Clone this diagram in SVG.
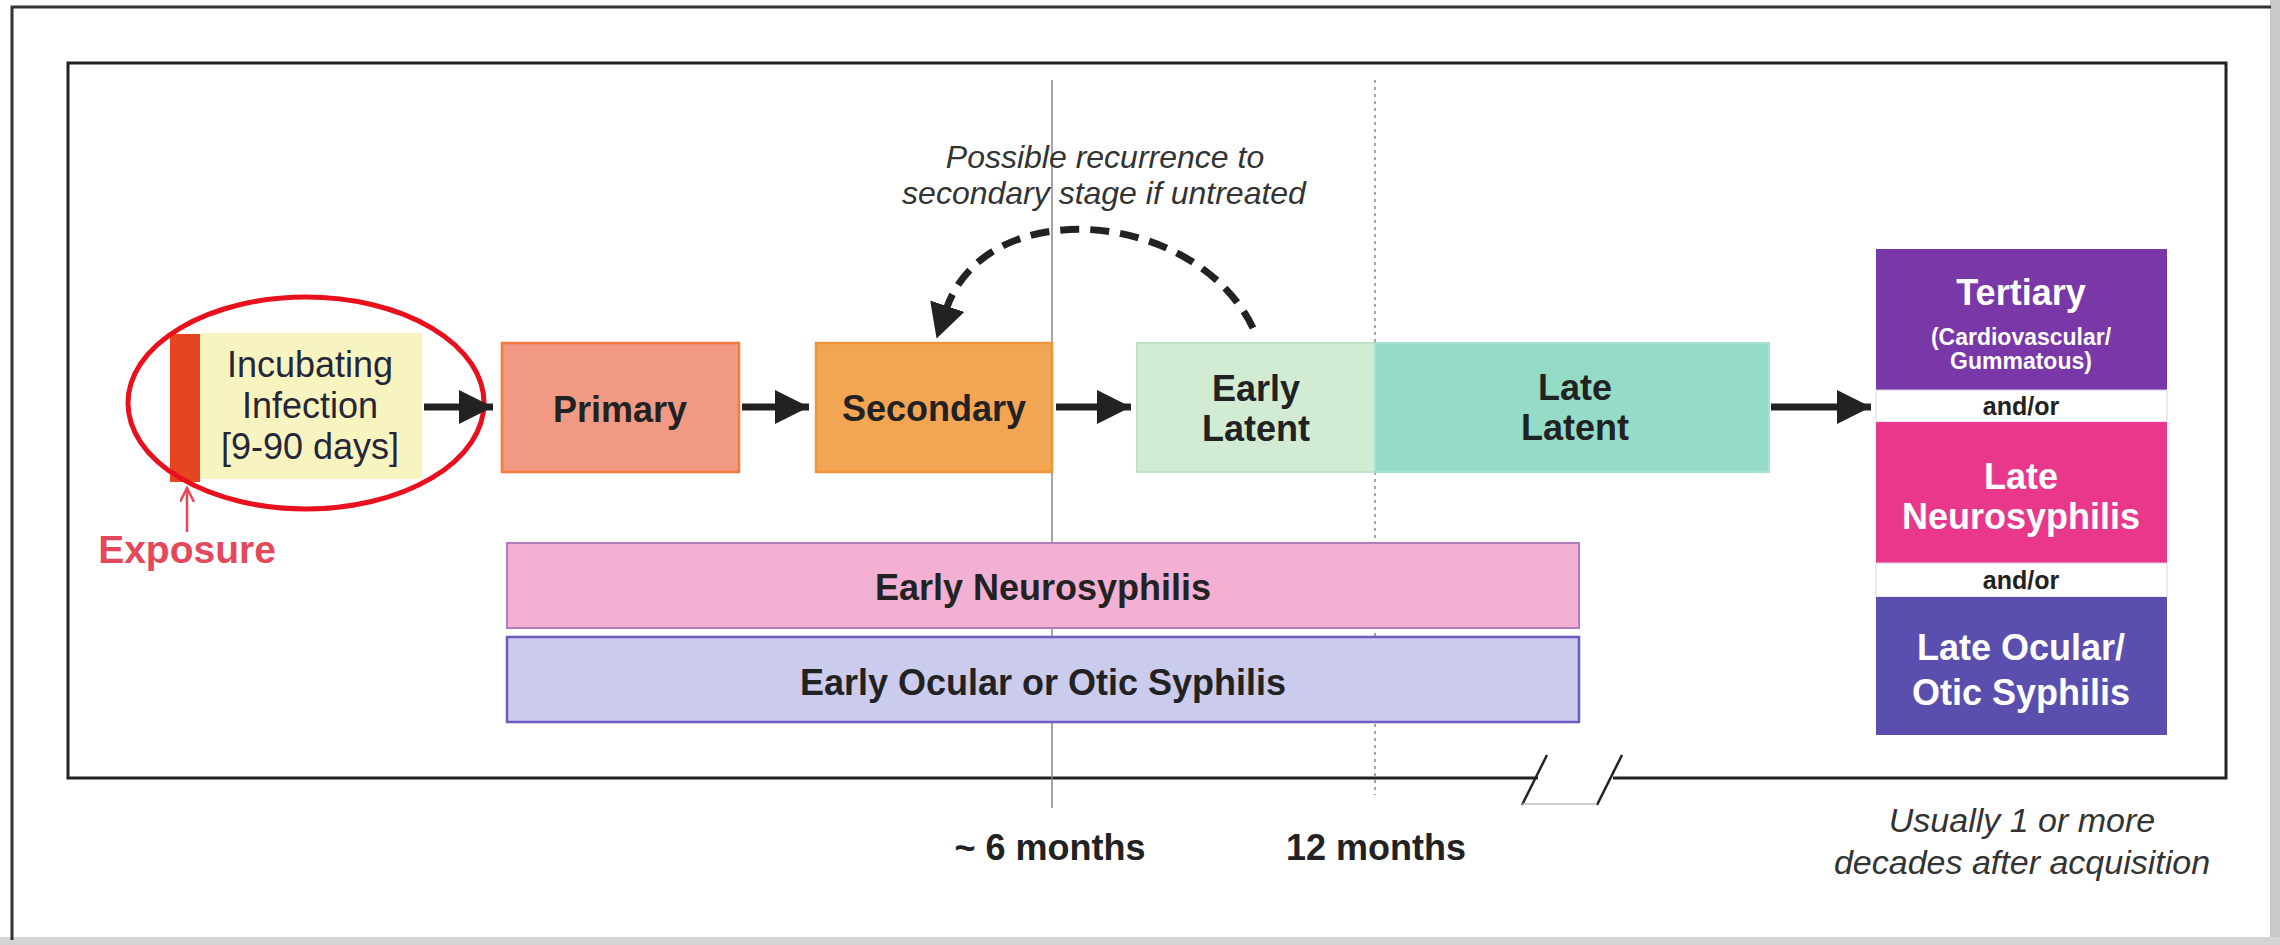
<svg xmlns="http://www.w3.org/2000/svg" width="2280" height="945" viewBox="0 0 2280 945">
  <style>
    .lbl { font-family: "Liberation Sans", Arial, sans-serif; font-weight: bold; font-size: 36px; fill: #222; text-anchor: middle; }
    .reg { font-family: "Liberation Sans", Arial, sans-serif; font-size: 36px; fill: #262638; text-anchor: middle; }
    .wht { font-family: "Liberation Sans", Arial, sans-serif; font-weight: bold; font-size: 36px; fill: #ffffff; text-anchor: middle; }
    .sub { font-family: "Liberation Sans", Arial, sans-serif; font-weight: bold; font-size: 23px; fill: #ffffff; text-anchor: middle; }
    .andor { font-family: "Liberation Sans", Arial, sans-serif; font-weight: bold; font-size: 25px; fill: #222; text-anchor: middle; }
    .ital { font-family: "Liberation Sans", Arial, sans-serif; font-style: italic; font-size: 32px; fill: #333; text-anchor: middle; }
    .ital2 { font-family: "Liberation Sans", Arial, sans-serif; font-style: italic; font-size: 34px; fill: #333; text-anchor: middle; }
    .conn { stroke: #222; stroke-width: 7; fill: none; }
  </style>
  <defs>
    <marker id="ah" markerUnits="userSpaceOnUse" markerWidth="36" markerHeight="36" refX="34" refY="17" orient="auto">
      <path d="M0,0 L34,17 L0,34 Z" fill="#222"/>
    </marker>
    <marker id="ahd" markerUnits="userSpaceOnUse" markerWidth="40" markerHeight="40" refX="4" refY="18" orient="auto">
      <path d="M0,0 L34,18 L0,36 Z" fill="#222"/>
    </marker>
    <marker id="ahr" markerUnits="userSpaceOnUse" markerWidth="16" markerHeight="16" refX="14" refY="7" orient="auto">
      <path d="M0,0 L14,7 L0,14" fill="none" stroke="#e5485a" stroke-width="2.5"/>
    </marker>
  </defs>

  <rect x="0" y="0" width="2280" height="945" fill="#ffffff"/>

  <!-- outer page frame -->
  <g id="page-frame">
    <rect x="2270" y="0" width="10" height="945" fill="#c9c9c9"/>
    <rect x="0" y="937" width="2280" height="8" fill="#d4d4d4"/>
    <path d="M12 940 V7 H2271" fill="none" stroke="#333" stroke-width="3"/>
  </g>

  <!-- inner frame with break -->
  <g id="inner-frame">
    <path d="M1538 778 H68 V63 H2226 V778 H1613" fill="none" stroke="#222" stroke-width="3"/>
    <path d="M1547 755 L1522 805 M1622 755 L1597 805" fill="none" stroke="#222" stroke-width="2.5"/>
    <path d="M1522 804 H1597" fill="none" stroke="#bbb" stroke-width="1.5"/>
  </g>

  <!-- time markers -->
  <g id="time-lines">
    <line x1="1052" y1="80" x2="1052" y2="808" stroke="#888" stroke-width="1.5"/>
    <line x1="1375" y1="80" x2="1375" y2="795" stroke="#888" stroke-width="1.5" stroke-dasharray="3 4"/>
  </g>

  <!-- nodes -->
  <g id="incubating">
    <rect x="200" y="333" width="222" height="146" fill="#f8f4c0"/>
    <rect x="170" y="334" width="30" height="148" fill="#e5451f"/>
    <text class="reg" x="310" y="377">Incubating</text>
    <text class="reg" x="310" y="418">Infection</text>
    <text class="reg" x="310" y="459">[9-90 days]</text>
  </g>

  <g id="highlight-ellipse">
    <ellipse cx="306" cy="403" rx="178" ry="106" fill="none" stroke="#e8101c" stroke-width="5"/>
  </g>

  <g id="exposure">
    <line x1="187" y1="532" x2="187" y2="488" stroke="#e5485a" stroke-width="2.5" marker-end="url(#ahr)"/>
    <text x="187" y="563" font-family="Liberation Sans, Arial, sans-serif" font-weight="bold" font-size="39" fill="#e5485a" text-anchor="middle">Exposure</text>
  </g>

  <g id="primary">
    <rect x="502" y="343" width="237" height="129" fill="#f29984" stroke="#f47a3a" stroke-width="2.5"/>
    <text class="lbl" x="620" y="422">Primary</text>
  </g>

  <g id="secondary">
    <rect x="816" y="343" width="236" height="129" fill="#f2a552" stroke="#f0943a" stroke-width="2.5"/>
    <text class="lbl" x="934" y="421">Secondary</text>
  </g>

  <g id="early-latent">
    <rect x="1137" y="343" width="238" height="129" fill="#d2ecd4" stroke="#c0e2c6" stroke-width="2"/>
    <text class="lbl" x="1256" y="401">Early</text>
    <text class="lbl" x="1256" y="441">Latent</text>
  </g>

  <g id="late-latent">
    <rect x="1375" y="343" width="394" height="129" fill="#94dcc8" stroke="#a6e2d2" stroke-width="2"/>
    <text class="lbl" x="1575" y="400">Late</text>
    <text class="lbl" x="1575" y="440">Latent</text>
  </g>

  <g id="tertiary">
    <rect x="1876" y="249" width="291" height="141" fill="#7937a8"/>
    <text class="wht" x="2021" y="305">Tertiary</text>
    <text class="sub" x="2021" y="345">(Cardiovascular/</text>
    <text class="sub" x="2021" y="369">Gummatous)</text>
  </g>
  <g id="andor-1">
    <rect x="1876" y="390" width="291" height="32" fill="#ffffff" stroke="#d8d0e8" stroke-width="1"/>
    <text class="andor" x="2021" y="415">and/or</text>
  </g>
  <g id="late-neurosyphilis">
    <rect x="1876" y="422" width="291" height="141" fill="#e9388b"/>
    <text class="wht" x="2021" y="489">Late</text>
    <text class="wht" x="2021" y="529">Neurosyphilis</text>
  </g>
  <g id="andor-2">
    <rect x="1876" y="563" width="291" height="34" fill="#ffffff" stroke="#d8d0e8" stroke-width="1"/>
    <text class="andor" x="2021" y="589">and/or</text>
  </g>
  <g id="late-ocular">
    <rect x="1876" y="597" width="291" height="138" fill="#5a4eae"/>
    <text class="wht" x="2021" y="660">Late Ocular/</text>
    <text class="wht" x="2021" y="705">Otic Syphilis</text>
  </g>

  <g id="early-neurosyphilis">
    <rect x="507" y="543" width="1072" height="85" fill="#f3b0d3" stroke="#b27cc0" stroke-width="2"/>
    <text class="lbl" x="1043" y="600">Early Neurosyphilis</text>
  </g>

  <g id="early-ocular">
    <rect x="507" y="637" width="1072" height="85" fill="#cbcbee" stroke="#6b5cc0" stroke-width="2.5"/>
    <text class="lbl" x="1043" y="695">Early Ocular or Otic Syphilis</text>
  </g>

  <!-- connectors -->
  <g id="connectors">
    <line class="conn" x1="424" y1="407" x2="493" y2="407" marker-end="url(#ah)"/>
    <line class="conn" x1="742" y1="407" x2="809" y2="407" marker-end="url(#ah)"/>
    <line class="conn" x1="1056" y1="407" x2="1131" y2="407" marker-end="url(#ah)"/>
    <line class="conn" x1="1771" y1="407" x2="1871" y2="407" marker-end="url(#ah)"/>
    <path d="M1253 328 C1195 208, 985 192, 946 310" fill="none" stroke="#222" stroke-width="7" stroke-dasharray="19 11" marker-end="url(#ahd)"/>
  </g>

  <!-- annotations -->
  <g id="annotations">
    <text class="ital" x="1105" y="168">Possible recurrence to</text>
    <text class="ital" x="1104" y="204">secondary stage if untreated</text>
    <text class="lbl" x="1050" y="860">~ 6 months</text>
    <text class="lbl" x="1376" y="860">12 months</text>
    <text class="ital2" x="2022" y="832">Usually 1 or more</text>
    <text class="ital2" x="2022" y="874">decades after acquisition</text>
  </g>
</svg>
